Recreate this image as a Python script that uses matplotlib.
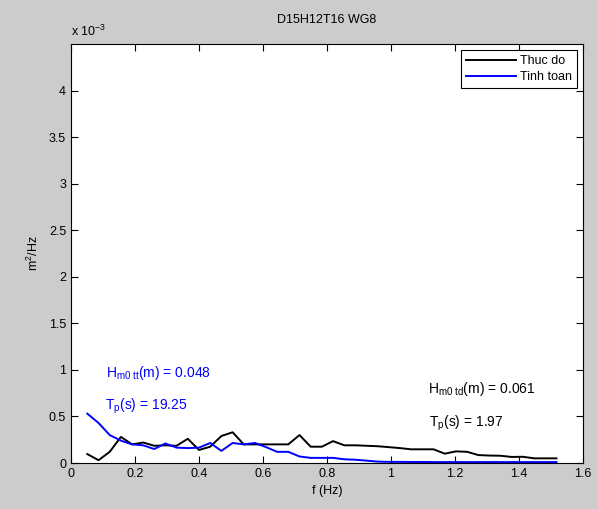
import numpy as np
from matplotlib import pyplot as plt
from matplotlib.ticker import FormatStrFormatter

# frequency (Hz)
freq = [0.051, 0.086, 0.121, 0.156, 0.191, 0.226, 0.260, 0.295, 0.330, 0.365,
        0.400, 0.435, 0.470, 0.505, 0.540, 0.575, 0.610, 0.644, 0.679, 0.714,
        0.749, 0.784, 0.819, 0.854, 0.889, 0.924, 0.959, 0.994, 1.028, 1.063,
        1.098, 1.133, 1.168, 1.203, 1.238, 1.273, 1.308, 1.342, 1.377, 1.412,
        1.447, 1.482, 1.517]

# spectra in units of 1e-3 m^2/Hz
thuc_do = [0.096, 0.030, 0.120, 0.280, 0.200, 0.220, 0.185, 0.190, 0.185, 0.260,
           0.140, 0.175, 0.290, 0.330, 0.200, 0.200, 0.200, 0.200, 0.200, 0.300,
           0.175, 0.175, 0.235, 0.190, 0.190, 0.185, 0.180, 0.170, 0.160, 0.147,
           0.147, 0.147, 0.100, 0.125, 0.120, 0.085, 0.080, 0.078, 0.065, 0.067,
           0.050, 0.050, 0.050]
tinh_toan = [0.530, 0.430, 0.300, 0.240, 0.200, 0.190, 0.150, 0.210, 0.165, 0.160,
             0.165, 0.215, 0.130, 0.215, 0.200, 0.215, 0.170, 0.120, 0.120, 0.070,
             0.055, 0.055, 0.055, 0.040, 0.035, 0.025, 0.015, 0.012, 0.012, 0.011,
             0.011, 0.010, 0.010, 0.010, 0.010, 0.010, 0.010, 0.010, 0.010, 0.010,
             0.010, 0.010, 0.010]

plt.rcParams['font.family'] = ['Liberation Sans', 'DejaVu Sans']
plt.rcParams['mathtext.fontset'] = 'custom'
plt.rcParams['mathtext.rm'] = 'Liberation Sans'
plt.rcParams['mathtext.it'] = 'Liberation Sans'

fig = plt.figure(figsize=(5.98, 5.09), dpi=100, facecolor='#cccccc')
ax = fig.add_axes([71 / 598, 1 - 463 / 509, 512 / 598, 419 / 509])

ax.plot(freq, thuc_do, color='black', lw=1.4, label='Thuc do')
ax.plot(freq, tinh_toan, color='blue', lw=1.4, label='Tinh toan')

ax.set_xlim(0, 1.6)
ax.set_ylim(0, 4.5)
ax.set_xticks(np.arange(0, 1.61, 0.2))
ax.set_yticks(np.arange(0, 4.01, 0.5))
ax.xaxis.set_major_formatter(FormatStrFormatter('%g'))
ax.yaxis.set_major_formatter(FormatStrFormatter('%g'))
ax.tick_params(direction='in', top=True, right=True, length=5, width=0.8,
               labelsize=9, colors='black')
for s in ax.spines.values():
    s.set_linewidth(0.8)

ax.set_title('D15H12T16 WG8', fontsize=9, pad=15)
ax.set_xlabel('f (Hz)', fontsize=9, labelpad=4)
ax.set_ylabel('m$^2$/Hz', fontsize=9, labelpad=6)
ax.text(0, 1.012, r'x 10$^{-3}$', transform=ax.transAxes, fontsize=9,
        ha='left', va='bottom')

ax.text(0.11, 0.97, r'H$_{\mathrm{m0\ tt}}$(m) = 0.048', color='blue',
        fontsize=10, va='center')
ax.text(0.105, 0.61, r'T$_{\mathrm{p}}$(s) = 19.25', color='blue',
        fontsize=10, va='center')
ax.text(1.115, 0.80, r'H$_{\mathrm{m0\ td}}$(m) = 0.061', color='black',
        fontsize=10, va='center')
ax.text(1.12, 0.43, r'T$_{\mathrm{p}}$(s) = 1.97', color='black',
        fontsize=10, va='center')

leg = ax.legend(loc='upper right', fontsize=9, fancybox=False,
                edgecolor='black', framealpha=1, handlelength=4.0,
                borderaxespad=0.5, handletextpad=0.3, borderpad=0.4,
                labelspacing=0.3)
leg.get_frame().set_linewidth(0.8)

fig.savefig('out.png', dpi=100, facecolor=fig.get_facecolor())
